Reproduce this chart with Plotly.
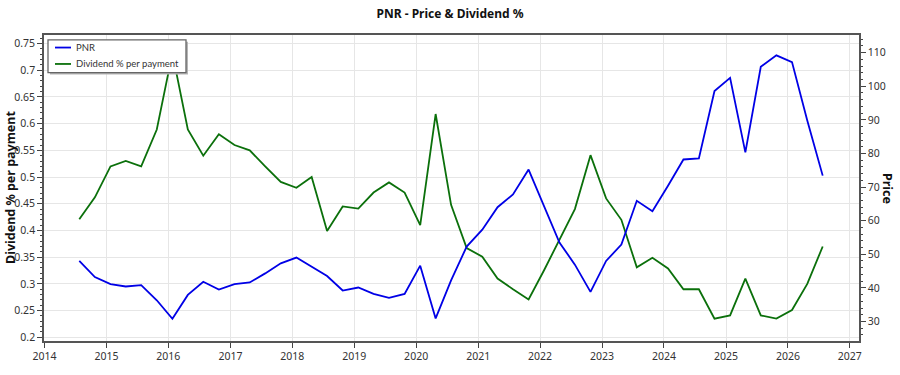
import plotly.graph_objects as go

dates = [
    "2014-07-25", "2014-10-25",
    "2015-01-25", "2015-04-25", "2015-07-25", "2015-10-25",
    "2016-01-25", "2016-04-25", "2016-07-25", "2016-10-25",
    "2017-01-25", "2017-04-25", "2017-07-25", "2017-10-25",
    "2018-01-25", "2018-04-25", "2018-07-25", "2018-10-25",
    "2019-01-25", "2019-04-25", "2019-07-25", "2019-10-25",
    "2020-01-25", "2020-04-25", "2020-07-25", "2020-10-25",
    "2021-01-25", "2021-04-25", "2021-07-25", "2021-10-25",
    "2022-01-25", "2022-04-25", "2022-07-25", "2022-10-25",
    "2023-01-25", "2023-04-25", "2023-07-25", "2023-10-25",
    "2024-01-25", "2024-04-25", "2024-07-25", "2024-10-25",
    "2025-01-25", "2025-04-25", "2025-07-25", "2025-10-25",
    "2026-01-25", "2026-04-25", "2026-07-25",
]

price = [
    48.0, 43.2,
    41.1, 40.4, 40.8, 36.3,
    30.8, 37.9, 41.8, 39.5,
    41.1, 41.6, 44.3, 47.3,
    49.0, 46.3, 43.5, 39.2,
    40.1, 38.2, 37.0, 38.2,
    46.6, 30.9, 42.2, 52.3,
    57.3, 64.0, 67.8, 75.2,
    64.4, 53.5, 46.9, 38.8,
    48.0, 52.9, 65.9, 62.8,
    70.4, 78.2, 78.5, 98.6,
    102.5, 80.3, 105.8, 109.2,
    107.2, 89.8, 73.4,
]

dividend_pct = [
    0.421, 0.462,
    0.520, 0.530, 0.520, 0.589,
    0.732, 0.589, 0.540, 0.580,
    0.560, 0.550, 0.520, 0.491,
    0.480, 0.500, 0.399, 0.445,
    0.441, 0.471, 0.490, 0.471,
    0.410, 0.618, 0.448, 0.367,
    0.351, 0.310, 0.290, 0.271,
    0.326, 0.383, 0.440, 0.541,
    0.460, 0.420, 0.331, 0.349,
    0.329, 0.290, 0.290, 0.235,
    0.241, 0.310, 0.241, 0.235,
    0.251, 0.300, 0.370,
]

series_names = ["PNR", "Dividend % per payment"]
series_colors = ["#0000e6", "#0b700b"]

FONT = "Segoe UI, Noto Sans, Open Sans, sans-serif"
W, H = 900, 375
L, R, T, B = 44, 41, 35, 23
PW, PH = W - L - R, H - T - B


def px_x(p):
    return (p - L) / PW


def px_y(p):
    return (H - B - p) / PH


fig = go.Figure()
fig.add_trace(go.Scatter(
    x=dates, y=price, name=series_names[0], mode="lines",
    line=dict(color=series_colors[0], width=1.8), yaxis="y2",
))
fig.add_trace(go.Scatter(
    x=dates, y=dividend_pct, name=series_names[1], mode="lines",
    line=dict(color=series_colors[1], width=1.8), yaxis="y",
))

# custom legend box (drawn above the traces, like the reference)
lx0, lx1, ly0, ly1 = 48, 186, 40, 74
shapes = [
    dict(type="rect", xref="paper", yref="paper", layer="above",
         x0=px_x(lx0 + 2), x1=px_x(lx1 + 2), y0=px_y(ly0 + 2), y1=px_y(ly1 + 2),
         fillcolor="#b5b5b5", line=dict(width=0)),
    dict(type="rect", xref="paper", yref="paper", layer="above",
         x0=px_x(lx0), x1=px_x(lx1), y0=px_y(ly0), y1=px_y(ly1),
         fillcolor="white", line=dict(color="#666666", width=1.3)),
]
annotations = []
for i, (nm, col) in enumerate(zip(series_names, series_colors)):
    yy = 48 + i * 17
    shapes.append(dict(type="line", xref="paper", yref="paper", layer="above",
                       x0=px_x(55), x1=px_x(71), y0=px_y(yy), y1=px_y(yy),
                       line=dict(color=col, width=1.8)))
    annotations.append(dict(text=nm, xref="paper", yref="paper",
                            x=px_x(74), y=px_y(yy), xanchor="left", yanchor="middle",
                            showarrow=False,
                            font=dict(family="Lato, Noto Sans, sans-serif", size=9.5, color="#333333")))

annotations += [
    dict(text="<b>Dividend % per payment</b>", xref="paper", yref="paper",
         x=px_x(10), y=0.5, xanchor="center", yanchor="middle",
         textangle=-90, showarrow=False, font=dict(size=12.5, color="#111111")),
    dict(text="<b>Price</b>", xref="paper", yref="paper",
         x=px_x(888), y=0.5, xanchor="center", yanchor="middle",
         textangle=90, showarrow=False, font=dict(size=12.5, color="#111111")),
]

fig.update_layout(
    width=W, height=H,
    margin=dict(l=L, r=R, t=T, b=B),
    paper_bgcolor="white", plot_bgcolor="white",
    font=dict(family=FONT, size=11, color="#333333"),
    title=dict(text="<b>PNR - Price & Dividend %</b>", x=0.5, xanchor="center",
               y=1 - 14 / H, yanchor="middle", font=dict(size=12, color="#111111")),
    showlegend=False,
    xaxis=dict(
        type="date", range=["2013-12-29", "2027-02-24"],
        tickvals=[f"{y}-01-01" for y in range(2014, 2028)],
        ticktext=[str(y) for y in range(2014, 2028)],
        showgrid=True, gridcolor="#e6e6e6", gridwidth=1,
        showline=True, linecolor="#555555", linewidth=1.5, mirror=True,
        ticks="outside", ticklen=5, tickcolor="#444444",
        zeroline=False, tickfont=dict(size=10.5),
    ),
    yaxis=dict(
        range=[0.1931, 0.7659], dtick=0.05, tick0=0.2,
        tickformat="~g",
        showgrid=True, gridcolor="#e6e6e6", gridwidth=1,
        showline=True, linecolor="#555555", linewidth=1.5, mirror=False,
        ticks="outside", ticklen=5, tickcolor="#444444",
        minor=dict(dtick=0.01, ticks="outside", ticklen=2, tickcolor="#444444", showgrid=False),
        zeroline=False, tickfont=dict(size=10.5),
    ),
    yaxis2=dict(
        range=[24.18, 115.25], dtick=10, tick0=30, overlaying="y", side="right",
        showgrid=False,
        showline=True, linecolor="#555555", linewidth=1.5,
        ticks="outside", ticklen=5, tickcolor="#444444",
        minor=dict(dtick=2, ticks="outside", ticklen=2, tickcolor="#444444", showgrid=False),
        zeroline=False, tickfont=dict(size=10.5),
    ),
    shapes=shapes,
    annotations=annotations,
)

fig.write_html("out.html")
